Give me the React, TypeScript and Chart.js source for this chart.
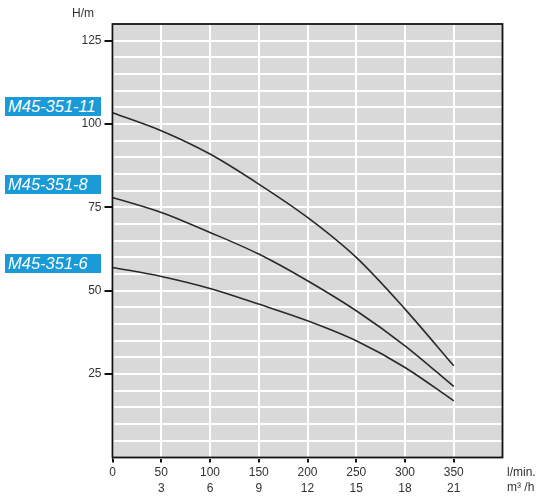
import React from "react";
import { useRef, useEffect } from "react";
import { Chart, registerables } from "chart.js";

Chart.register(...registerables);

// flow in l/min, head in m
const flow = [0, 50, 100, 150, 200, 250, 300, 350];
const head11 = [103.4, 98, 91, 82, 72, 60, 44.5, 27.5];
const head8 = [78, 73.5, 67.5, 61, 53, 44, 33.5, 21.3];
const head6 = [57, 54.3, 50.7, 46, 41, 35, 27, 17];
const seriesNames = ["M45-351-11", "M45-351-8", "M45-351-6"];

// tick labels
const flowTicks = [0, 50, 100, 150, 200, 250, 300, 350];
const m3hTicks = ["", "3", "6", "9", "12", "15", "18", "21"];
const headTicks = [25, 50, 75, 100, 125];

const FONT = '"Liberation Sans", Arial, Helvetica, sans-serif';
const TEXT = "#333";

const decorPlugin = {
  id: "decor",
  beforeDraw(chart: Chart) {
    const { ctx, chartArea } = chart;
    ctx.save();
    ctx.fillStyle = "#d9d9d9";
    ctx.fillRect(chartArea.left, chartArea.top, chartArea.width, chartArea.height);
    ctx.restore();
  },
  afterDraw(chart: Chart) {
    const { ctx, chartArea } = chart;
    ctx.save();
    ctx.strokeStyle = "#111";
    ctx.lineWidth = 1.8;
    ctx.strokeRect(chartArea.left, chartArea.top, chartArea.width, chartArea.height);
    ctx.fillStyle = TEXT;
    ctx.font = `12px ${FONT}`;
    ctx.textBaseline = "middle";
    ctx.textAlign = "center";
    ctx.fillText("H/m", 83, 14);
    ctx.textAlign = "left";
    ctx.fillText("l/min.", 507, 473);
    ctx.fillText("m³ /h", 507, 488);
    ctx.restore();
  },
};

function PumpChart() {
  const chartRef = useRef<HTMLCanvasElement>(null);

  useEffect(() => {
    const canvas = chartRef.current?.getContext("2d");
    if (!canvas) {
      return;
    }
    const series = [head11, head8, head6];
    const chart = new Chart(canvas, {
      type: "line",
      data: {
        datasets: series.map((h, i) => ({
          label: seriesNames[i],
          data: flow.map((x, j) => ({ x, y: h[j] })),
          borderColor: "#2a2a2a",
          borderWidth: 1.6,
          pointRadius: 0,
          fill: false,
          cubicInterpolationMode: "monotone" as const,
        })),
      },
      options: {
        animation: false,
        responsive: false,
        layout: { padding: { left: 72.5, top: 24, right: 45.5, bottom: 0 } },
        plugins: {
          legend: { display: false },
          tooltip: { enabled: false },
        },
        scales: {
          x: {
            type: "linear",
            min: 0,
            max: 400,
            border: { display: false },
            grid: {
              color: "#ffffff",
              lineWidth: 2,
              tickLength: 5,
              tickColor: (ctx: any) =>
                ctx.tick && ctx.tick.value <= 350 ? "#111" : "rgba(0,0,0,0)",
            },
            afterFit: (scale: any) => {
              scale.height = 42.5;
            },
            ticks: {
              stepSize: 50,
              autoSkip: false,
              maxRotation: 0,
              includeBounds: false,
              padding: 2.5,
              color: TEXT,
              font: { family: FONT, size: 12, lineHeight: 1.3 },
              callback: (v: any) => {
                const i = flowTicks.indexOf(Number(v));
                if (i < 0) return "";
                return m3hTicks[i] === "" ? String(v) : [String(v), m3hTicks[i]];
              },
            },
          },
          y: {
            type: "linear",
            min: 0,
            max: 130,
            border: { display: false },
            grid: {
              color: "#ffffff",
              lineWidth: 2,
              tickLength: 8,
              tickColor: (ctx: any) =>
                ctx.tick && headTicks.includes(ctx.tick.value) ? "#111" : "rgba(0,0,0,0)",
            },
            afterFit: (scale: any) => {
              scale.width = 40;
            },
            ticks: {
              stepSize: 5,
              autoSkip: false,
              padding: 3,
              color: TEXT,
              font: { family: FONT, size: 12 },
              callback: (v: any) => (headTicks.includes(Number(v)) ? String(v) : ""),
            },
          },
        },
      },
      plugins: [decorPlugin],
    });
    return () => {
      chart.destroy();
    };
  }, []);

  const tagTops = [97, 175, 254];

  return (
    <div style={{ position: "absolute", left: 0, top: 0, width: 548, height: 500 }}>
      <canvas ref={chartRef} width={548} height={500} style={{ display: "block" }} />
      {seriesNames.map((name, i) => (
        <div
          key={name}
          style={{
            position: "absolute",
            left: 5,
            top: tagTops[i],
            width: 96,
            height: 19,
            background: "#1a9ad6",
            color: "#fff",
            fontFamily: FONT,
            fontStyle: "italic",
            fontSize: 16.5,
            lineHeight: "19px",
            paddingLeft: 3,
            boxSizing: "border-box",
            whiteSpace: "nowrap",
          }}
        >
          {name}
        </div>
      ))}
    </div>
  );
}

export default function App() {
  return <PumpChart />;
}
